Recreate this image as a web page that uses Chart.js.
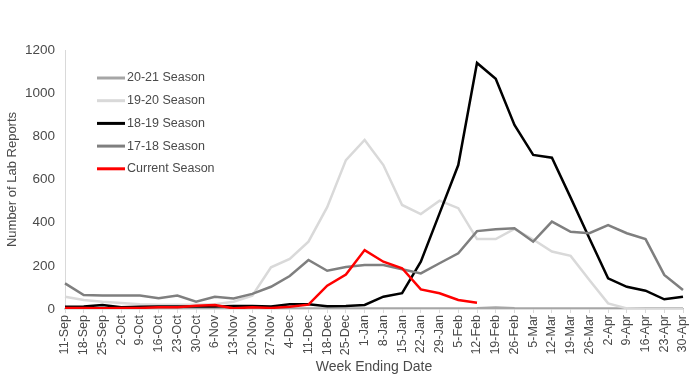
<!DOCTYPE html>
<html>
<head>
<meta charset="utf-8">
<script src="https://cdn.jsdelivr.net/npm/chart.js@4.4.1/dist/chart.umd.min.js"></script>
<style>
html,body{margin:0;padding:0;background:#fff;}
#wrap{width:700px;height:379px;position:relative;}
</style>
</head>
<body>
<div id="wrap"><canvas id="c" width="700" height="379"></canvas></div>
<script>
const categories = ["11-Sep","18-Sep","25-Sep","2-Oct","9-Oct","16-Oct","23-Oct","30-Oct","6-Nov","13-Nov","20-Nov","27-Nov","4-Dec","11-Dec","18-Dec","25-Dec","1-Jan","8-Jan","15-Jan","22-Jan","29-Jan","5-Feb","12-Feb","19-Feb","26-Feb","5-Mar","12-Mar","19-Mar","26-Mar","2-Apr","9-Apr","16-Apr","23-Apr","30-Apr"];
const yTicks = [0,200,400,600,800,1000,1200];

const season2021 = [3,3,3,2,2,2,2,2,2,2,2,2,2,2,2,2,2,2,2,2,2,2,3,7,3,2,2,2,2,2,2,2,2,2];
const season1920 = [57,42,34,28,22,20,20,20,22,34,62,193,232,312,472,690,783,667,482,440,502,467,324,324,371,322,266,246,134,26,3,0,0,0];
const season1819 = [10,12,18,8,10,12,12,12,12,14,14,12,22,22,13,14,19,57,73,219,443,667,1140,1067,853,714,701,516,328,142,103,85,45,57];
const season1718 = [119,65,62,62,62,50,62,34,57,49,70,103,153,227,177,195,204,204,184,165,212,258,361,370,374,312,405,358,351,389,351,324,158,88];
const currentSeason = [5,5,3,5,5,8,8,15,18,3,8,5,10,20,108,160,273,219,189,91,73,42,29];

const labels = ["20-21 Season","19-20 Season","18-19 Season","17-18 Season","Current Season"];
const colors = ["#a6a6a6","#d9d9d9","#000000","#7f7f7f","#ff0000"];

const FONT = "'Liberation Sans', Arial, sans-serif";
const TXT = "#4a4a4a";

const legendPlugin = {
  id: 'insideLegend',
  afterDatasetsDraw(chart) {
    const ctx = chart.ctx;
    ctx.save();
    const x0 = 97, x1 = 125, tx = 127, y0 = 78, dy = 22.7;
    chart.data.datasets.forEach((ds, i) => {
      const y = y0 + i * dy;
      ctx.strokeStyle = ds.borderColor;
      ctx.lineWidth = 3;
      ctx.beginPath(); ctx.moveTo(x0, y); ctx.lineTo(x1, y); ctx.stroke();
      ctx.fillStyle = TXT;
      ctx.font = "12.5px " + FONT;
      ctx.textBaseline = "middle";
      ctx.textAlign = "left";
      ctx.fillText(ds.label, tx, y);
    });
    ctx.restore();
  }
};

const dataSets = [season2021, season1920, season1819, season1718, currentSeason];
new Chart(document.getElementById('c'), {
  type: 'line',
  data: {
    labels: categories,
    datasets: dataSets.map((d, i) => ({
      label: labels[i],
      data: d,
      borderColor: colors[i],
      backgroundColor: colors[i],
      borderWidth: 2.5,
      pointRadius: 0,
      tension: 0,
      fill: false,
      order: 5 - i
    }))
  },
  options: {
    responsive: false,
    animation: false,
    layout: { padding: { left: 0, top: 50, right: 17, bottom: 0 } },
    plugins: { legend: { display: false }, tooltip: { enabled: false } },
    scales: {
      x: {
        offset: false,
        afterFit(s) { s.height = 70; },
        grid: { display: true, drawOnChartArea: false, drawTicks: true, tickLength: 4, color: "#d9d9d9" },
        border: { display: true, color: "#bfbfbf", width: 1.5 },
        ticks: { minRotation: 90, maxRotation: 90, autoSkip: false, color: TXT, padding: 2, font: { family: FONT, size: 12.5 } },
        title: { display: true, text: "Week Ending Date", color: TXT, font: { family: FONT, size: 14 }, padding: { top: 0, bottom: 3 } }
      },
      y: {
        min: 0, max: 1200,
        afterFit(s) { s.width = 65; },
        afterBuildTicks(s) { s.ticks = yTicks.map(v => ({ value: v })); },
        grid: { display: false, drawTicks: false },
        border: { display: true, color: "#d9d9d9", width: 1 },
        ticks: { color: TXT, padding: 10, font: { family: FONT, size: 13.5 }, callback: (v) => String(v) },
        title: { display: true, text: "Number of Lab Reports", color: TXT, font: { family: FONT, size: 13 }, padding: { top: 5, bottom: 0 } }
      }
    }
  },
  plugins: [legendPlugin]
});
</script>
</body>
</html>
